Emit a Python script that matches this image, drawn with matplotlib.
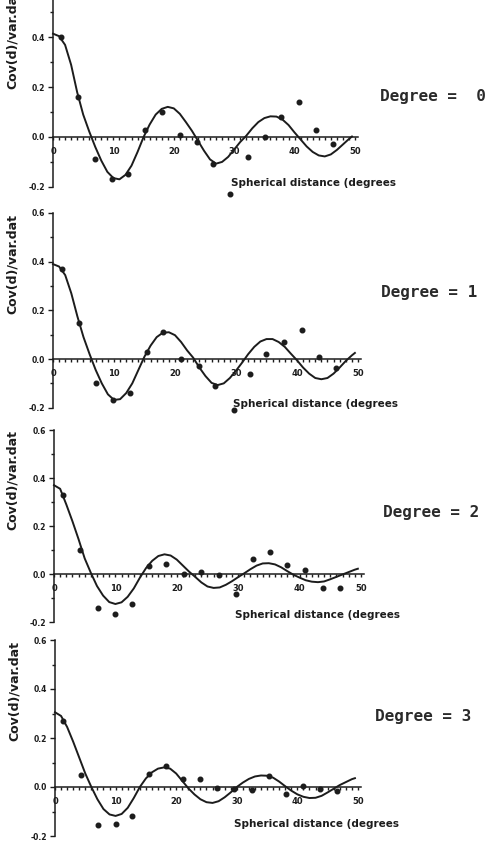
import numpy as np
import matplotlib
matplotlib.use("Agg")
import matplotlib.pyplot as plt
from matplotlib.ticker import MultipleLocator

# fitted curves, every degree (last value at 49.5)
curve_x = list(range(0, 50)) + [49.5]

curve_deg0 = [0.415, 0.405, 0.37, 0.29, 0.18, 0.09, 0.022, -0.04, -0.095, -0.14,
              -0.165, -0.17, -0.152, -0.115, -0.06, 0.0, 0.05, 0.09, 0.113, 0.121,
              0.115, 0.093, 0.06, 0.025, -0.015, -0.055, -0.09, -0.107, -0.1, -0.08,
              -0.05, -0.02, 0.005, 0.035, 0.06, 0.076, 0.083, 0.082, 0.07, 0.048,
              0.018, -0.01, -0.038, -0.06, -0.074, -0.078, -0.07, -0.052, -0.03, -0.008, 0.002]
curve_deg1 = [0.39, 0.38, 0.345, 0.27, 0.175, 0.09, 0.02, -0.045, -0.1, -0.145,
              -0.168, -0.165, -0.14, -0.1, -0.045, 0.01, 0.055, 0.09, 0.108, 0.11,
              0.098, 0.07, 0.035, 0.005, -0.035, -0.07, -0.098, -0.107, -0.1, -0.078,
              -0.048, -0.015, 0.02, 0.05, 0.072, 0.082, 0.082, 0.07, 0.05, 0.022,
              -0.005, -0.035, -0.06, -0.078, -0.083, -0.078, -0.06, -0.035, -0.008, 0.015, 0.025]
curve_deg2 = [0.37, 0.355, 0.29, 0.22, 0.145, 0.065, 0.005, -0.05, -0.09, -0.117,
              -0.125, -0.118, -0.095, -0.06, -0.015, 0.025, 0.055, 0.075, 0.082, 0.077,
              0.06, 0.035, 0.01, -0.012, -0.035, -0.052, -0.058, -0.056, -0.045, -0.03,
              -0.013, 0.003, 0.02, 0.035, 0.044, 0.045, 0.04, 0.028, 0.012, -0.003,
              -0.015, -0.026, -0.032, -0.034, -0.031, -0.022, -0.012, -0.002, 0.008, 0.018, 0.022]
curve_deg3 = [0.305, 0.29, 0.245, 0.185, 0.12, 0.055, 0.0, -0.05, -0.09, -0.112,
              -0.118, -0.11, -0.085, -0.045, 0.0, 0.035, 0.06, 0.075, 0.08, 0.075,
              0.055, 0.025, -0.005, -0.03, -0.05, -0.062, -0.065, -0.058, -0.042, -0.022,
              0.0, 0.018, 0.033, 0.043, 0.047, 0.046, 0.038, 0.022, 0.003, -0.015,
              -0.03, -0.04, -0.045, -0.044, -0.036, -0.022, -0.007, 0.008, 0.02, 0.032, 0.036]

# observed points
pts_x0 = [1.4, 4.1, 6.9, 9.8, 12.5, 15.3, 18.1, 21.0, 23.8, 26.5, 29.3, 32.3, 35.1, 37.8, 40.7, 43.5, 46.4]
pts_y0 = [0.40, 0.16, -0.09, -0.17, -0.15, 0.03, 0.10, 0.01, -0.02, -0.11, -0.23, -0.08, 0.0, 0.08, 0.14, 0.03, -0.03]
pts_x1 = [1.4, 4.2, 7.0, 9.9, 12.6, 15.4, 18.1, 21.0, 23.9, 26.6, 29.6, 32.3, 35.0, 37.9, 40.8, 43.6, 46.4]
pts_y1 = [0.37, 0.15, -0.10, -0.17, -0.14, 0.03, 0.11, 0.0, -0.03, -0.11, -0.21, -0.06, 0.02, 0.07, 0.12, 0.01, -0.035]
pts_x2 = [1.5, 4.3, 7.1, 10.0, 12.7, 15.5, 18.3, 21.1, 24.0, 26.8, 29.7, 32.4, 35.2, 38.0, 40.9, 43.8, 46.6]
pts_y2 = [0.33, 0.10, -0.14, -0.165, -0.125, 0.035, 0.042, 0.0, 0.008, -0.003, -0.085, 0.063, 0.09, 0.038, 0.018, -0.06, -0.06]
pts_x3 = [1.4, 4.3, 7.1, 10.0, 12.7, 15.5, 18.3, 21.1, 23.9, 26.7, 29.6, 32.5, 35.3, 38.1, 41.0, 43.8, 46.6]
pts_y3 = [0.27, 0.047, -0.155, -0.153, -0.12, 0.054, 0.084, 0.031, 0.031, -0.003, -0.007, -0.011, 0.043, -0.027, 0.003, -0.007, -0.016]

degree_labels = ['Degree =  0', 'Degree = 1', 'Degree = 2', 'Degree = 3']
xticks = [0, 10, 20, 30, 40, 50]
yticks = [-0.2, 0.0, 0.2, 0.4, 0.6]
ytick_labels = ['-0.2', '0.0', '0.2', '0.4', '0.6']
ylabel = 'Cov(d)/var.dat'
xlabel = 'Spherical distance (degrees'

curves = [curve_deg0, curve_deg1, curve_deg2, curve_deg3]
pts = [(pts_x0, pts_y0), (pts_x1, pts_y1), (pts_x2, pts_y2), (pts_x3, pts_y3)]

W, H = 490, 848
ink = '#1c1c1c'

# panel boxes in pixels: left, y of -0.2, y of 0.6, right
boxes = [(53, 186.8, -12.4, 358), (53, 407.7, 213, 361), (54, 622, 430, 364), (55, 836, 640, 361)]
deg_pos = [(380, 97), (381, 293), (383, 512), (375, 717)]
xlab_y = [-0.185, -0.183, -0.17, -0.15]

fig = plt.figure(figsize=(W / 100, H / 100), dpi=100)

for i in range(4):
    l, yb, yt, r = boxes[i]
    ax = fig.add_axes([l / W, 1 - yb / H, (r - l) / W, (yb - yt) / H])
    ax.plot(curve_x, curves[i], color=ink, lw=1.4, solid_joinstyle='round', clip_on=False)
    ax.plot(pts[i][0], pts[i][1], 'o', ms=3.3, color=ink, clip_on=False)
    ax.set_xlim(0, 50.5)
    ax.set_ylim(-0.2, 0.6)

    ax.spines['top'].set_visible(False)
    ax.spines['right'].set_visible(False)
    ax.spines['bottom'].set_position(('data', 0))
    ax.spines['bottom'].set_linewidth(1.1)
    ax.spines['left'].set_linewidth(1.1)
    ax.spines['bottom'].set_color(ink)
    ax.spines['left'].set_color(ink)

    ax.set_xticks(xticks, [str(t) for t in xticks], fontsize=6, fontweight='bold')
    ax.xaxis.set_minor_locator(MultipleLocator(1))
    ax.tick_params(axis='x', which='both', direction='out', length=2.5, width=1,
                   pad=5, colors=ink)
    ax.set_yticks(yticks, ytick_labels, fontsize=5.5, fontweight='bold')
    ax.yaxis.set_minor_locator(MultipleLocator(0.1))
    ax.tick_params(axis='y', which='major', direction='out', length=3.5, width=1, pad=2, colors=ink)
    ax.tick_params(axis='y', which='minor', direction='out', length=2, width=1, colors=ink)

    ax.set_ylabel(ylabel, fontsize=9, fontweight='bold', color=ink)
    ax.yaxis.set_label_coords(-0.112, 0.74)

    ax.text(29.5, xlab_y[i], xlabel, fontsize=7.5, fontweight='bold', color=ink,
            va='center', ha='left', clip_on=False)

    fig.text(deg_pos[i][0] / W, 1 - deg_pos[i][1] / H, degree_labels[i],
             family='DejaVu Sans Mono', fontweight='bold', fontsize=11.5,
             color='#2a2a2a', va='center', ha='left')

fig.savefig('out.png', dpi=100, facecolor='white')
